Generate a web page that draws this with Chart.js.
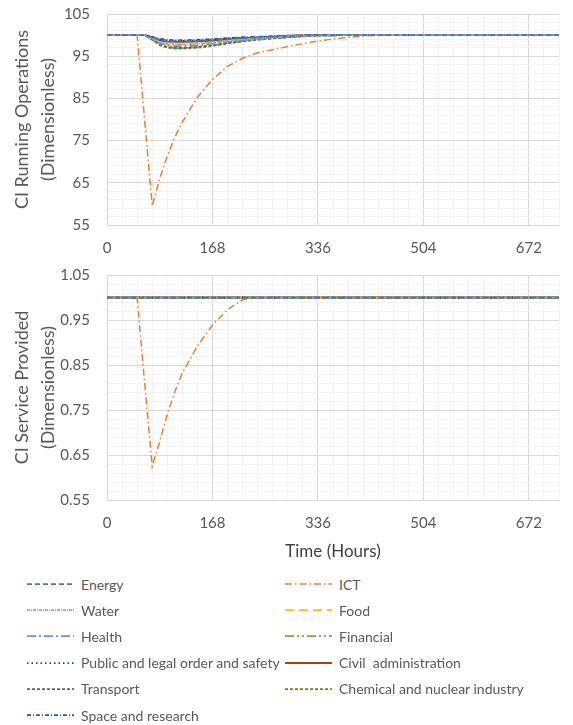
<!DOCTYPE html>
<html>
<head>
<meta charset="utf-8">
<script src="https://cdn.jsdelivr.net/npm/chart.js@4"></script>
<style>
  body { margin: 0; background: #fff; width: 573px; height: 725px; overflow: hidden; position: relative; font-family: Lato, sans-serif; }
  #opsWrap { position: absolute; left: 0; top: 0; width: 573px; height: 262px; }
  #svcWrap { position: absolute; left: 0; top: 262px; width: 573px; height: 300px; }
  .lg { position: absolute; display: flex; align-items: center; font-size: 14px; color: #595959; white-space: pre; }
  .lg canvas { margin-right: 7px; }
</style>
</head>
<body>
<div id="opsWrap"><canvas id="opsChart"></canvas></div>
<div id="svcWrap"><canvas id="svcChart"></canvas></div>
<div id="legend"></div>
<script>
// время, часы
const hours = [0, 48, 60, 72, 84, 96, 108, 120, 144, 168, 192, 216, 240, 288, 336, 384, 432, 480, 720];

// CI Running Operations
const energyOps    = [100, 100, 100, 99.5, 98.9, 98.6, 98.5, 98.5, 98.6, 98.8, 99.1, 99.3, 99.5, 99.8, 100, 100, 100, 100, 100];
const ictOps       = [100, 100, 79.8, 59.5, 66, 71.3, 75.8, 79.4, 85.3, 89.5, 92.6, 94.5, 95.8, 97.3, 98.6, 99.5, 100, 100, 100];
const waterOps     = [100, 100, 100, 99.2, 98.4, 97.9, 97.8, 97.8, 97.9, 98.2, 98.7, 99, 99.2, 99.7, 99.9, 100, 100, 100, 100];
const foodOps      = [100, 100, 100, 99.2, 98.3, 97.9, 97.8, 97.8, 97.9, 98.3, 98.7, 99, 99.2, 99.7, 99.9, 100, 100, 100, 100];
const healthOps    = [100, 100, 100, 99.1, 98.1, 97.5, 97.4, 97.4, 97.5, 97.9, 98.4, 98.8, 99.1, 99.6, 99.9, 100, 100, 100, 100];
const financialOps = [100, 100, 100, 98.9, 97.7, 97.1, 96.9, 96.9, 97.1, 97.5, 98.1, 98.6, 98.9, 99.5, 99.9, 100, 100, 100, 100];
const publicOps    = [100, 100, 100, 99.5, 99, 98.7, 98.6, 98.6, 98.7, 98.9, 99.2, 99.4, 99.5, 99.8, 100, 100, 100, 100, 100];
const civilOps     = [100, 100, 100, 99.4, 98.8, 98.5, 98.4, 98.4, 98.5, 98.7, 99, 99.3, 99.4, 99.8, 100, 100, 100, 100, 100];
const transportOps = [100, 100, 100, 99, 97.8, 97.2, 97, 97, 97.2, 97.6, 98.2, 98.6, 99, 99.5, 99.9, 100, 100, 100, 100];
const chemicalOps  = [100, 100, 100, 98.9, 97.6, 97, 96.8, 96.8, 97, 97.4, 98, 98.5, 98.9, 99.5, 99.9, 100, 100, 100, 100];
const spaceOps     = [100, 100, 100, 99.6, 99.1, 98.9, 98.8, 98.8, 98.9, 99.1, 99.3, 99.5, 99.6, 99.9, 100, 100, 100, 100, 100];

// CI Service Provided
const ictService  = [1, 1, 0.81, 0.625, 0.68, 0.74, 0.79, 0.832, 0.892, 0.939, 0.973, 0.995, 1, 1, 1, 1, 1, 1, 1];
const flatHours   = [0, 720];
const flatService = [1, 1];

// подписи осей
const xTickLabels = [0, 168, 336, 504, 672];
const opsTickLabels = [55, 65, 75, 85, 95, 105];
const svcTickLabels = [0.55, 0.65, 0.75, 0.85, 0.95, 1.05];

const sectors = [
  { label: 'Energy', color: '#4472C4', dash: [5, 3], width: 1.75, ops: energyOps },
  { label: 'Water', color: '#A5A5A5', dash: [3, 1, 1, 1], width: 1.75, ops: waterOps },
  { label: 'Health', color: '#5B9BD5', dash: [9, 3, 2, 3], width: 1.75, ops: healthOps },
  { label: 'Public and legal order and safety', color: '#264478', dash: [1.5, 3], width: 1.75, ops: publicOps },
  { label: 'Transport', color: '#636363', dash: [3, 2], width: 1.75, ops: transportOps },
  { label: 'Food', color: '#FFC000', dash: [9, 5], width: 1.75, ops: foodOps },
  { label: 'Financial', color: '#70AD47', dash: [9, 3, 2, 3, 2, 3], width: 1.75, ops: financialOps },
  { label: 'Civil  administration', color: '#9E480E', dash: [], width: 2, ops: civilOps },
  { label: 'Chemical and nuclear industry', color: '#997300', dash: [3, 2], width: 1.75, ops: chemicalOps },
  { label: 'Space and research', color: '#255E91', dash: [4, 2, 1, 2], width: 1.75, ops: spaceOps },
  { label: 'ICT', color: '#ED7D31', dash: [7, 3, 1.5, 3], width: 1.5, ops: ictOps, svc: ictService },
];

// порядок в легенде: две колонки
const legendLeft = ['Energy', 'Water', 'Health', 'Public and legal order and safety', 'Transport', 'Space and research'];
const legendRight = ['ICT', 'Food', 'Financial', 'Civil  administration', 'Chemical and nuclear industry'];

const TXT = '#595959';
const GRID_MAJOR = '#D9D9D9';
const GRID_MINOR = '#F2F2F2';

function buildChart(canvasId, datasets, yMin, yMax, yStep, yMajors, yTitle, showXTitle, xAxisHeight, padTop) {
  const majorY = v => yMajors.some(m => Math.abs(m - v) < 1e-6);
  const majorX = v => xTickLabels.includes(v);
  return new Chart(document.getElementById(canvasId), {
    type: 'line',
    data: { datasets },
    options: {
      responsive: true,
      maintainAspectRatio: false,
      animation: false,
      layout: { padding: { top: padTop, right: 0, left: 0, bottom: 0 } },
      elements: { point: { radius: 0 }, line: { tension: 0 } },
      plugins: { legend: { display: false }, tooltip: { enabled: false } },
      scales: {
        x: {
          type: 'linear', min: 0, max: 720,
          grid: {
            drawTicks: false,
            color: ctx => majorX(ctx.tick.value) ? GRID_MAJOR : GRID_MINOR,
          },
          border: { color: GRID_MAJOR },
          ticks: {
            stepSize: 24, autoSkip: false, maxRotation: 0, padding: 14,
            color: TXT, font: { family: 'Lato', size: 15 },
            callback: v => majorX(v) ? String(v) : '',
          },
          title: {
            display: showXTitle, text: 'Time (Hours)', color: '#404040',
            font: { family: 'Lato', size: 17 }, padding: { top: 0, bottom: 0 },
          },
          afterFit: s => { s.height = xAxisHeight; },
        },
        y: {
          min: yMin, max: yMax,
          grid: {
            // невидимые засечки вместо ticks.padding, иначе растёт верхний отступ
            drawTicks: true, tickLength: 17, tickColor: 'rgba(0,0,0,0)',
            color: ctx => majorY(ctx.tick.value) ? GRID_MAJOR : GRID_MINOR,
          },
          border: { color: GRID_MAJOR },
          ticks: {
            stepSize: yStep, autoSkip: false, padding: 0,
            color: TXT, font: { family: 'Lato', size: 15 },
            callback: v => majorY(v) ? (yStep < 1 ? v.toFixed(2) : String(v)) : '',
          },
          title: {
            display: true, text: yTitle, color: TXT,
            font: { family: 'Lato', size: 18, lineHeight: 1.45 }, padding: { top: 9, bottom: 0 },
          },
          afterFit: s => { s.width = 107; },
        },
      },
    },
  });
}

function lineSet(s, xs, ys) {
  return {
    label: s.label,
    data: xs.map((h, i) => ({ x: h, y: ys[i] })),
    borderColor: s.color,
    borderDash: s.dash,
    borderWidth: s.width,
    fill: false,
  };
}

const opsSets = sectors.map(s => lineSet(s, hours, s.ops));
const svcSets = sectors.map(s => s.svc ? lineSet(s, hours, s.svc) : lineSet(s, flatHours, flatService));

buildChart('opsChart', opsSets, 55, 105, 2, opsTickLabels,
  ['CI Running Operations', '(Dimensionless)'], false, 37, 14);
buildChart('svcChart', svcSets, 0.55, 1.05, 0.02, svcTickLabels,
  ['CI Service Provided', '(Dimensionless)'], true, 62, 13);

// легенда
function legendItem(name, left, top) {
  const s = sectors.find(d => d.label === name);
  const el = document.createElement('div');
  el.className = 'lg';
  el.style.left = left + 'px';
  el.style.top = (top - 10) + 'px';
  el.style.height = '20px';
  const c = document.createElement('canvas');
  c.width = 47; c.height = 10;
  const g = c.getContext('2d');
  g.strokeStyle = s.color;
  g.lineWidth = s.width;
  g.setLineDash(s.dash);
  g.beginPath(); g.moveTo(0, 5); g.lineTo(47, 5); g.stroke();
  el.appendChild(c);
  const t = document.createElement('span');
  t.textContent = name;
  el.appendChild(t);
  document.getElementById('legend').appendChild(el);
}
legendLeft.forEach((n, i) => legendItem(n, 27, 584 + i * 26.2));
legendRight.forEach((n, i) => legendItem(n, 285, 584 + i * 26.2));
</script>
</body>
</html>
